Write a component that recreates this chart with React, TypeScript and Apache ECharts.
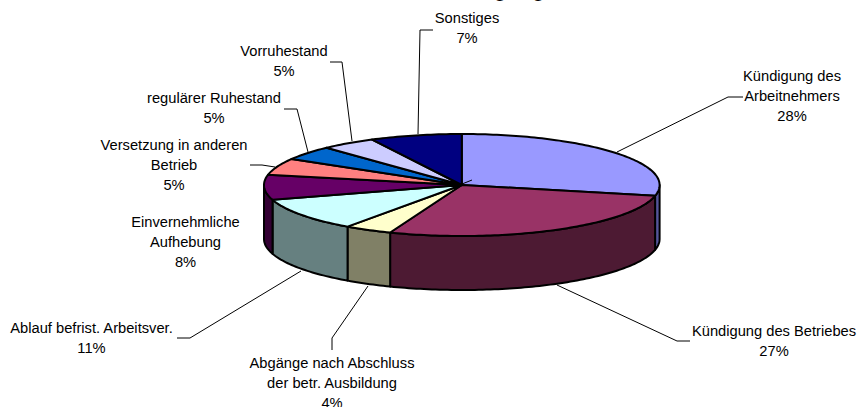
import React, { useEffect, useRef } from "react";
import * as echarts from "echarts";

const categories = [
  "Kündigung des\nArbeitnehmers",
  "Kündigung des Betriebes",
  "Abgänge nach Abschluss\nder betr. Ausbildung",
  "Ablauf befrist. Arbeitsver.",
  "Einvernehmliche\nAufhebung",
  "Versetzung in anderen\nBetrieb",
  "regulärer Ruhestand",
  "Vorruhestand",
  "Sonstiges",
];
const shares = [28.4, 27.49, 3.9, 10.5, 7.9, 5.3, 4.5, 4.5, 7.49];
const topColors = ["#9999FF", "#993366", "#FFFFCC", "#CCFFFF", "#660066", "#FF8080", "#0066CC", "#CCCCFF", "#000080"];
const wallColors = ["#55559A", "#4D1A33", "#808066", "#668080", "#330033", "#804040", "#003366", "#666680", "#000040"];

const titleText = "Abgänge";

// layout of the label blocks: [center x, center y]
const labelCenters = [
  [792, 96], [774, 340.5], [332, 383], [91.5, 338], [185.5, 242], [174, 164.5], [214, 108], [284, 61], [467, 28],
];
// leader lines
const leaders = [
  [[743, 97], [728, 97], [617, 152]],
  [[690, 341], [677, 341], [557, 285]],
  [[332, 350], [332, 338], [368, 286]],
  [[177, 338], [190, 338], [301, 271]],
  [[250, 165], [262, 165], [275, 167]],
  [[284, 109], [297, 109], [308, 152]],
  [[330, 62], [342, 62], [352, 141]],
  [[433, 30], [420, 30], [418, 134]],
  [[462, 184], [472, 180]],
];

const CX = 461.8;
const CY = 185;
const RX = 197.8;
const RY = 51;
const DEPTH = 54;
const HALF = Math.PI / 2;

const total = shares.reduce((a, b) => a + b, 0);
const sliceAngles = (i: number) => {
  const before = shares.slice(0, i).reduce((a, b) => a + b, 0);
  return [(before / total) * 2 * Math.PI, ((before + shares[i]) / total) * 2 * Math.PI];
};
const rimPoint = (t: number, dy = 0) => [CX + RX * Math.sin(t), CY - RY * Math.cos(t) + dy];
const arc = (a: number, b: number, dy = 0) => {
  const n = Math.max(2, Math.ceil(Math.abs(b - a) / 0.02));
  const pts: number[][] = [];
  for (let k = 0; k <= n; k++) pts.push(rimPoint(a + ((b - a) * k) / n, dy));
  return pts;
};

export default function App() {
  const ref = useRef<HTMLDivElement>(null);
  useEffect(() => {
    if (!ref.current) return;
    const chart = echarts.init(ref.current, undefined, { renderer: "svg" });
    const data = shares.map((v, i) => ({ value: v, name: categories[i] }));
    const edge = { stroke: "#000", lineWidth: 2, lineJoin: "round" as const };
    chart.setOption({
      animation: false,
      backgroundColor: "#fff",
      series: [
        {
          type: "custom",
          coordinateSystem: "none",
          z: 1,
          silent: true,
          data,
          renderItem: (params: any) => {
            const [a, b] = sliceAngles(params.dataIndex);
            const s = Math.max(a, HALF);
            const e = Math.min(b, 3 * HALF);
            if (e <= s) return { type: "group", children: [] };
            return {
              type: "polygon",
              shape: { points: [...arc(s, e, 0), ...arc(e, s, DEPTH)] },
              style: { fill: wallColors[params.dataIndex], ...edge },
            };
          },
        },
        {
          type: "custom",
          coordinateSystem: "none",
          z: 2,
          silent: true,
          data,
          renderItem: (params: any) => {
            const [a, b] = sliceAngles(params.dataIndex);
            return {
              type: "polygon",
              shape: { points: [[CX, CY], ...arc(a, b)] },
              style: { fill: topColors[params.dataIndex], ...edge },
            };
          },
        },
      ],
      graphic: {
        elements: [
          {
            type: "text",
            x: 465.5,
            y: -0.3,
            style: {
              text: titleText,
              font: "23px 'Liberation Sans', Arial, sans-serif",
              fill: "#000",
              align: "left",
              verticalAlign: "bottom",
            },
          },
          ...leaders.map((points) => ({
            type: "polyline",
            z: 3,
            shape: { points },
            style: { stroke: "#000", lineWidth: 1, fill: "none" },
          })),
          ...categories.map((c, i) => ({
            type: "text",
            z: 4,
            x: labelCenters[i][0],
            y: labelCenters[i][1],
            style: {
              text: `${c}\n${Math.round(shares[i])}%`,
              font: "14.7px 'Liberation Sans', Arial, sans-serif",
              lineHeight: 20,
              fill: "#000",
              align: "center",
              verticalAlign: "middle",
            },
          })),
        ],
      },
    });
    return () => chart.dispose();
  }, []);
  return <div ref={ref} style={{ position: "fixed", left: 0, top: 0, width: 859, height: 407 }} />;
}
